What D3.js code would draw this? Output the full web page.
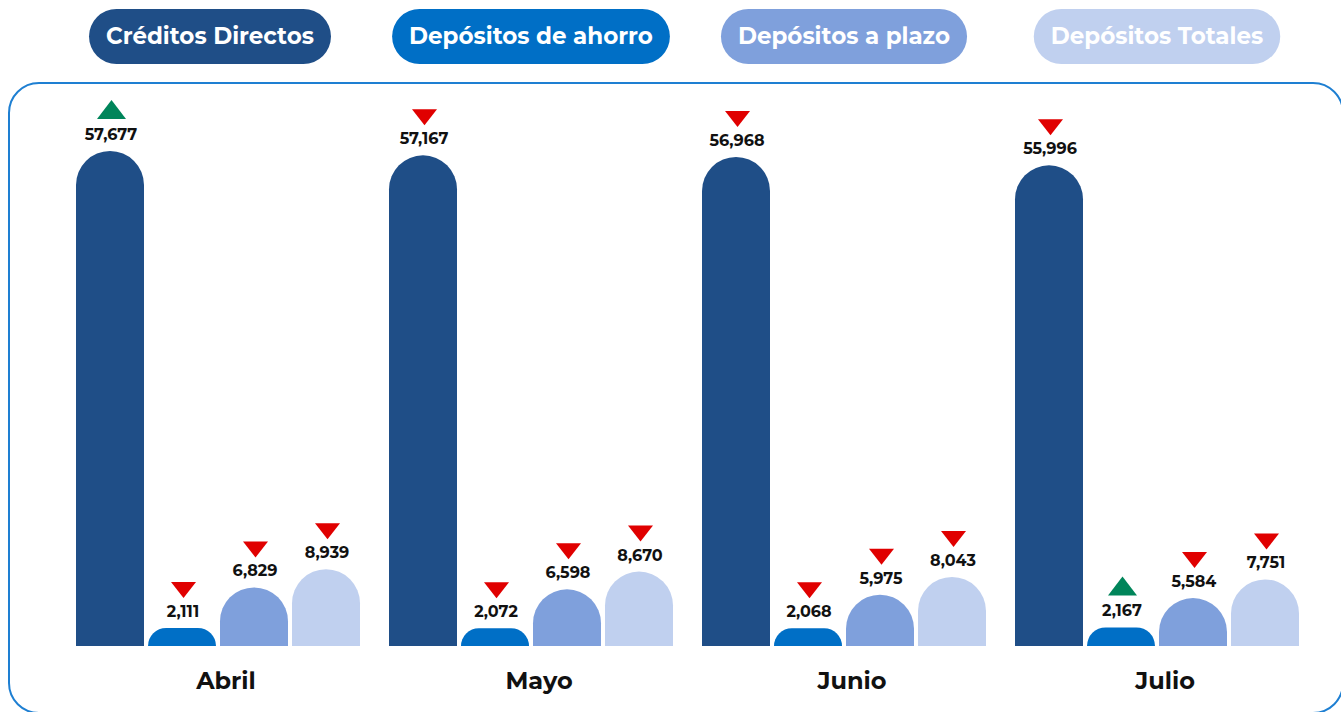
<!DOCTYPE html>
<html>
<head>
<meta charset="utf-8">
<script src="https://cdn.jsdelivr.net/npm/d3@7"></script>
<style>
html,body{margin:0;padding:0;background:#fff;}
svg{display:block;}
</style>
</head>
<body>
<svg id="chart" width="1341" height="712"></svg>
<script>
// ---- data ----
const months = ["Abril", "Mayo", "Junio", "Julio"];
const seriesNames = ["Créditos Directos", "Depósitos de ahorro", "Depósitos a plazo", "Depósitos Totales"];
const creditosDirectos = [57677, 57167, 56968, 55996];
const depositosAhorro = [2111, 2072, 2068, 2167];
const depositosPlazo = [6829, 6598, 5975, 5584];
const depositosTotales = [8939, 8670, 8043, 7751];
const creditosTrend = ["up", "down", "down", "down"];
const ahorroTrend = ["down", "down", "down", "up"];
const plazoTrend = ["down", "down", "down", "down"];
const totalesTrend = ["down", "down", "down", "down"];

const seriesColors = ["#1F4E87", "#006FC6", "#7FA0DC", "#C0D0EF"];
const seriesValues = [creditosDirectos, depositosAhorro, depositosPlazo, depositosTotales];
const seriesTrends = [creditosTrend, ahorroTrend, plazoTrend, totalesTrend];

const W = 1341, H = 712;
const svg = d3.select("#chart");
const FONT = "Montserrat, Inter, 'Open Sans', sans-serif";

// border frame
svg.append("rect")
  .attr("x", 9).attr("y", 83).attr("width", 1334).attr("height", 630)
  .attr("rx", 30).attr("ry", 30)
  .attr("fill", "none").attr("stroke", "#1E7FD2").attr("stroke-width", 2);

const baseline = 646;
const x0 = d3.scaleBand().domain(months).range([76, 1299]).paddingInner(29 / 313).paddingOuter(0);
const x1 = d3.scaleBand().domain(seriesNames).range([0, x0.bandwidth()]).paddingInner(4 / 72).paddingOuter(0);
const y = d3.scaleLinear().domain([0, 60000]).range([baseline, baseline - 515]);
const fmt = d3.format(",");

const rows = [];
months.forEach((m, i) => {
  seriesNames.forEach((s, j) => {
    rows.push({ month: m, series: s, si: j, value: seriesValues[j][i], trend: seriesTrends[j][i] });
  });
});

function topRounded(x, yTop, w, h) {
  const r = Math.min(w / 2, h);
  return `M${x},${yTop + h} L${x},${yTop + r} A${r},${r} 0 0 1 ${x + r},${yTop} L${x + w - r},${yTop} A${r},${r} 0 0 1 ${x + w},${yTop + r} L${x + w},${yTop + h} Z`;
}

const g = svg.append("g");
const bw = x1.bandwidth();

g.selectAll("path.bar").data(rows).join("path")
  .attr("class", "bar")
  .attr("d", d => {
    const xx = x0(d.month) + x1(d.series);
    const yt = y(d.value);
    return topRounded(xx, yt, bw, baseline - yt);
  })
  .attr("fill", d => seriesColors[d.si]);

// value labels
g.selectAll("text.val").data(rows).join("text")
  .attr("class", "val")
  .attr("x", d => x0(d.month) + x1(d.series) + bw / 2 + 1)
  .attr("y", d => y(d.value) - 11)
  .attr("text-anchor", "middle")
  .attr("font-family", FONT)
  .attr("font-weight", 700)
  .attr("font-size", 16)
  .attr("fill", "#111")
  .text(d => fmt(d.value));

// trend triangles
g.selectAll("path.tri").data(rows).join("path")
  .attr("class", "tri")
  .attr("d", d => {
    const cx = x0(d.month) + x1(d.series) + bw / 2 + 1.5;
    const b = y(d.value) - 11;
    if (d.trend === "up") {
      const yb = b - 21, yt = b - 40, hw = 14.5;
      return `M${cx - hw},${yb} L${cx + hw},${yb} L${cx},${yt} Z`;
    } else {
      const yt = b - 35, yb = b - 19, hw = 12.5;
      return `M${cx - hw},${yt} L${cx + hw},${yt} L${cx},${yb} Z`;
    }
  })
  .attr("fill", d => d.trend === "up" ? "#00855A" : "#E00000");

// month labels
svg.append("g").selectAll("text.month").data(months).join("text")
  .attr("class", "month")
  .attr("x", d => x0(d) + x0.bandwidth() / 2 + 8)
  .attr("y", 689)
  .attr("text-anchor", "middle")
  .attr("font-family", FONT)
  .attr("font-weight", 700)
  .attr("font-size", 24)
  .attr("fill", "#111")
  .text(d => d);

// legend pills
const legend = svg.append("g");
seriesNames.forEach((s, j) => {
  const cx = x0(months[j]) + x0.bandwidth() / 2 - (j === 0 ? 8 : 0);
  const grp = legend.append("g");
  const t = grp.append("text")
    .attr("x", cx).attr("y", 44)
    .attr("text-anchor", "middle")
    .attr("font-family", FONT)
    .attr("font-weight", 700)
    .attr("font-size", 23)
    .attr("fill", "#fff")
    .text(s);
  const tw = t.node().getComputedTextLength();
  const pw = tw + 34;
  grp.insert("rect", "text")
    .attr("x", cx - pw / 2).attr("y", 9)
    .attr("width", pw).attr("height", 55)
    .attr("rx", 27.5).attr("ry", 27.5)
    .attr("fill", seriesColors[j]);
});
</script>
</body>
</html>
